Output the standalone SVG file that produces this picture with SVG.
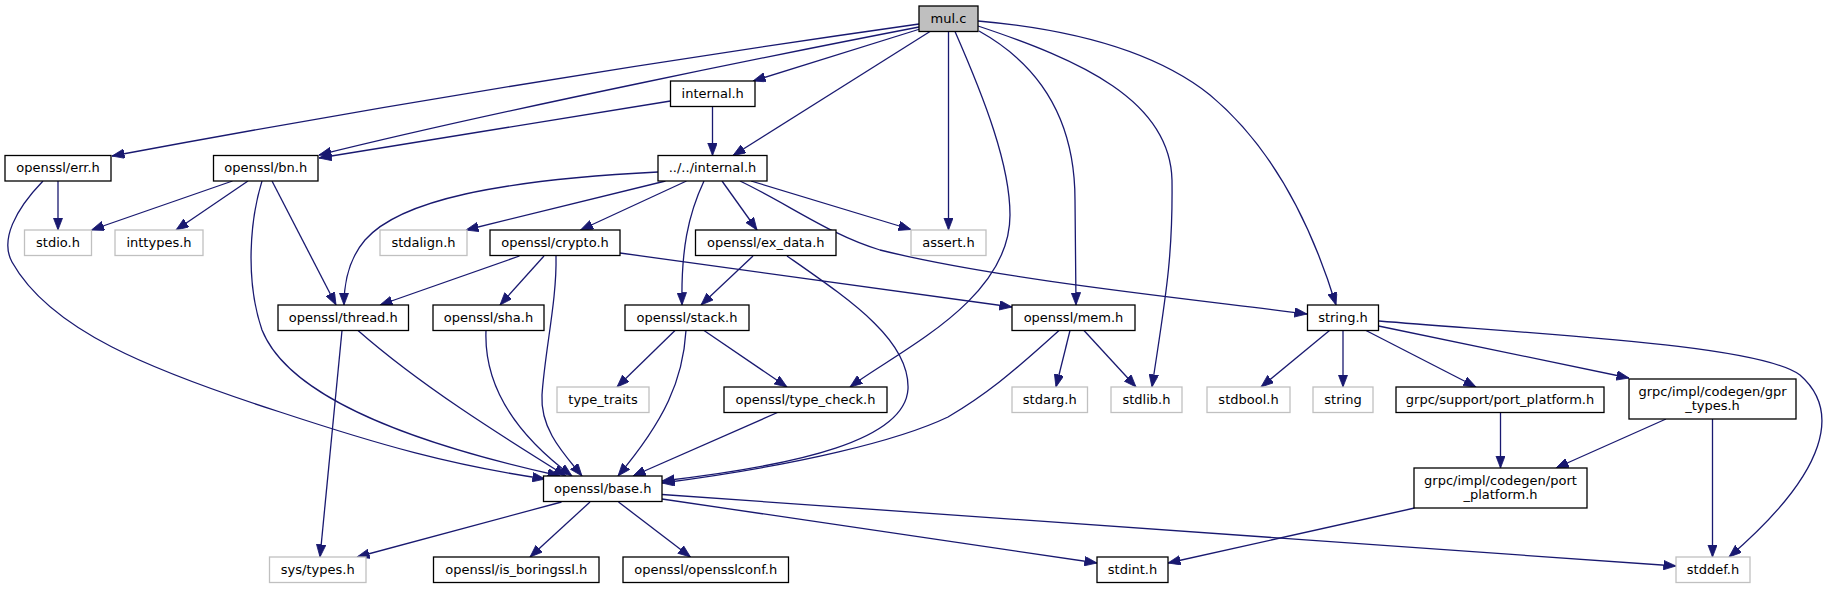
<svg xmlns="http://www.w3.org/2000/svg" width="1829" height="589" viewBox="0 0 1829 589">
<style>
.n rect{fill:#fff;stroke:#000;stroke-width:1.3}
.n.g rect{stroke:#c0c0c0}
.n.m rect{fill:#bfbfbf}
.n text{font-family:"DejaVu Sans","Liberation Sans",sans-serif;font-size:13px;fill:#000;text-anchor:middle}
#edges path{fill:none;stroke:#191970;stroke-width:1.3;marker-end:url(#ah)}
</style>
<defs>
<marker id="ah" markerUnits="userSpaceOnUse" markerWidth="13" markerHeight="10" refX="12.5" refY="4.75" orient="auto">
<path d="M0,0 L12.5,4.75 L0,9.5 z" fill="#191970" stroke="#191970" stroke-width="0.8"/>
</marker>
</defs>
<rect width="1829" height="589" fill="#fff"/>
<g id="edges">
<path d="M919,24 C750,48 450,93 112,156"/>
<path d="M919,27 C800,50 500,110 319,155"/>
<path d="M920,29 L753,81"/>
<path d="M930,31.5 L733,155.5"/>
<path d="M948.5,31.5 L948.5,230"/>
<path d="M955,31.5 C985,100 1010,165 1010,215 C1010,300 900,350 850,387"/>
<path d="M979,31 C1040,65 1075,120 1075,200 L1076,305"/>
<path d="M978,26 C1080,60 1170,100 1172,180 C1173,260 1165,300 1152,387"/>
<path d="M978,21 C1080,30 1160,55 1210,95 C1270,145 1310,220 1336,305"/>
<path d="M670.5,101 L319,158"/>
<path d="M712.5,106.5 L712.5,155.5"/>
<path d="M58,181 L58,230"/>
<path d="M43,181 C15,210 0,240 12,262 C50,330 150,370 280,412 C380,445 450,465 545,479"/>
<path d="M232.5,181 L91.5,230"/>
<path d="M248,181 L176,230"/>
<path d="M262,181 C250,220 245,280 262,330 C290,400 420,445 560,476"/>
<path d="M272,181 L336,305"/>
<path d="M658,172 C500,180 400,200 365,240 C348,260 344,285 344,305"/>
<path d="M665.5,181 L466,230"/>
<path d="M686.5,181 L580.5,230"/>
<path d="M704,181 C688,215 681,250 682,305"/>
<path d="M722,181 L757,230"/>
<path d="M751,181 L911,229.5"/>
<path d="M740,181 C790,205 830,235 880,250 C1000,280 1200,300 1307,314"/>
<path d="M519.5,256 L380,305"/>
<path d="M544,256 L500,305"/>
<path d="M556,256 C557,300 545,350 542,395 C540,430 565,455 582,476"/>
<path d="M620,253 L1012,307"/>
<path d="M753,256 L701,305"/>
<path d="M787,256 C850,300 910,340 908,389 C905,440 800,465 662,481"/>
<path d="M342,330.5 L320,557"/>
<path d="M358,330.5 C420,385 500,435 566,476"/>
<path d="M486,330.5 C484,380 510,430 572,476"/>
<path d="M675,330.5 L617,387"/>
<path d="M686,330.5 C683,380 665,420 618,476"/>
<path d="M704,330.5 L787,387"/>
<path d="M1059,330.5 C1010,375 985,395 948,417 C900,440 800,465 662,483"/>
<path d="M1070,330.5 L1056,387"/>
<path d="M1084,330.5 L1136,387"/>
<path d="M777.5,412.5 L633,476"/>
<path d="M1329.5,330.5 L1261,387"/>
<path d="M1343,330.5 L1343,387"/>
<path d="M1366,330.5 L1476,387"/>
<path d="M1378.5,326 L1629,378"/>
<path d="M1379,321 C1550,335 1760,345 1800,375 C1840,410 1830,470 1729,557"/>
<path d="M1500.5,412.5 L1500.5,468"/>
<path d="M1666,419 L1556,468"/>
<path d="M1712.5,419 L1712.5,557"/>
<path d="M1414.5,508 L1168,563"/>
<path d="M561.5,502 L357,557"/>
<path d="M590,502 L530,557"/>
<path d="M618.5,502 L690.5,557"/>
<path d="M662,499 L1097,563"/>
<path d="M662,494.5 L1676,566"/>
</g>
<g id="n-mulc" class="n m"><rect x="919" y="6" width="59" height="25.5"/><text x="948.5" y="22.5">mul.c</text></g>
<g id="n-internal" class="n"><rect x="670.5" y="81" width="84.5" height="25.5"/><text x="712.75" y="97.5">internal.h</text></g>
<g id="n-err" class="n"><rect x="5" y="155.5" width="106" height="25.5"/><text x="58" y="172">openssl/err.h</text></g>
<g id="n-bn" class="n"><rect x="213.5" y="155.5" width="104.5" height="25.5"/><text x="265.75" y="172">openssl/bn.h</text></g>
<g id="n-internal2" class="n"><rect x="658" y="155.5" width="109" height="25.5"/><text x="712.5" y="172">../../internal.h</text></g>
<g id="n-stdio" class="n g"><rect x="24.5" y="230" width="67" height="25.5"/><text x="58" y="246.5">stdio.h</text></g>
<g id="n-inttypes" class="n g"><rect x="115" y="230" width="88" height="25.5"/><text x="159" y="246.5">inttypes.h</text></g>
<g id="n-stdalign" class="n g"><rect x="380" y="230" width="87" height="25.5"/><text x="423.5" y="246.5">stdalign.h</text></g>
<g id="n-crypto" class="n"><rect x="490" y="230" width="130" height="25.5"/><text x="555" y="246.5">openssl/crypto.h</text></g>
<g id="n-exdata" class="n"><rect x="695.5" y="230" width="140.5" height="25.5"/><text x="765.75" y="246.5">openssl/ex_data.h</text></g>
<g id="n-assert" class="n g"><rect x="911" y="230" width="75" height="25.5"/><text x="948.5" y="246.5">assert.h</text></g>
<g id="n-thread" class="n"><rect x="278" y="305" width="130.5" height="25.5"/><text x="343.25" y="321.5">openssl/thread.h</text></g>
<g id="n-sha" class="n"><rect x="433" y="305" width="111" height="25.5"/><text x="488.5" y="321.5">openssl/sha.h</text></g>
<g id="n-stack" class="n"><rect x="625" y="305" width="124" height="25.5"/><text x="687" y="321.5">openssl/stack.h</text></g>
<g id="n-mem" class="n"><rect x="1012" y="305" width="123" height="25.5"/><text x="1073.5" y="321.5">openssl/mem.h</text></g>
<g id="n-stringh" class="n"><rect x="1307.5" y="305" width="71" height="25.5"/><text x="1343" y="321.5">string.h</text></g>
<g id="n-typetraits" class="n g"><rect x="557" y="387" width="92" height="25.5"/><text x="603" y="403.5">type_traits</text></g>
<g id="n-typecheck" class="n"><rect x="724" y="387" width="163" height="25.5"/><text x="805.5" y="403.5">openssl/type_check.h</text></g>
<g id="n-stdarg" class="n g"><rect x="1012" y="387" width="75.5" height="25.5"/><text x="1049.75" y="403.5">stdarg.h</text></g>
<g id="n-stdlib" class="n g"><rect x="1111" y="387" width="71" height="25.5"/><text x="1146.5" y="403.5">stdlib.h</text></g>
<g id="n-stdbool" class="n g"><rect x="1207" y="387" width="83" height="25.5"/><text x="1248.5" y="403.5">stdbool.h</text></g>
<g id="n-string" class="n g"><rect x="1313" y="387" width="60" height="25.5"/><text x="1343" y="403.5">string</text></g>
<g id="n-supportpp" class="n"><rect x="1396" y="387" width="208" height="25.5"/><text x="1500" y="403.5">grpc/support/port_platform.h</text></g>
<g id="n-gprtypes" class="n"><rect x="1629" y="379" width="167" height="40"/><text x="1712.5" y="395.5">grpc/impl/codegen/gpr</text><text x="1712.5" y="410">_types.h</text></g>
<g id="n-base" class="n"><rect x="543.5" y="476" width="118.5" height="25.5"/><text x="602.75" y="492.5">openssl/base.h</text></g>
<g id="n-codegenpp" class="n"><rect x="1414" y="468" width="173" height="40"/><text x="1500.5" y="484.5">grpc/impl/codegen/port</text><text x="1500.5" y="499">_platform.h</text></g>
<g id="n-systypes" class="n g"><rect x="269.5" y="557" width="96.5" height="25.5"/><text x="317.75" y="573.5">sys/types.h</text></g>
<g id="n-isboringssl" class="n"><rect x="433.5" y="557" width="165.5" height="25.5"/><text x="516.25" y="573.5">openssl/is_boringssl.h</text></g>
<g id="n-opensslconf" class="n"><rect x="623" y="557" width="165.5" height="25.5"/><text x="705.75" y="573.5">openssl/opensslconf.h</text></g>
<g id="n-stdint" class="n"><rect x="1097" y="557" width="71" height="25.5"/><text x="1132.5" y="573.5">stdint.h</text></g>
<g id="n-stddef" class="n g"><rect x="1676" y="557" width="74" height="25.5"/><text x="1713" y="573.5">stddef.h</text></g>
</svg>
